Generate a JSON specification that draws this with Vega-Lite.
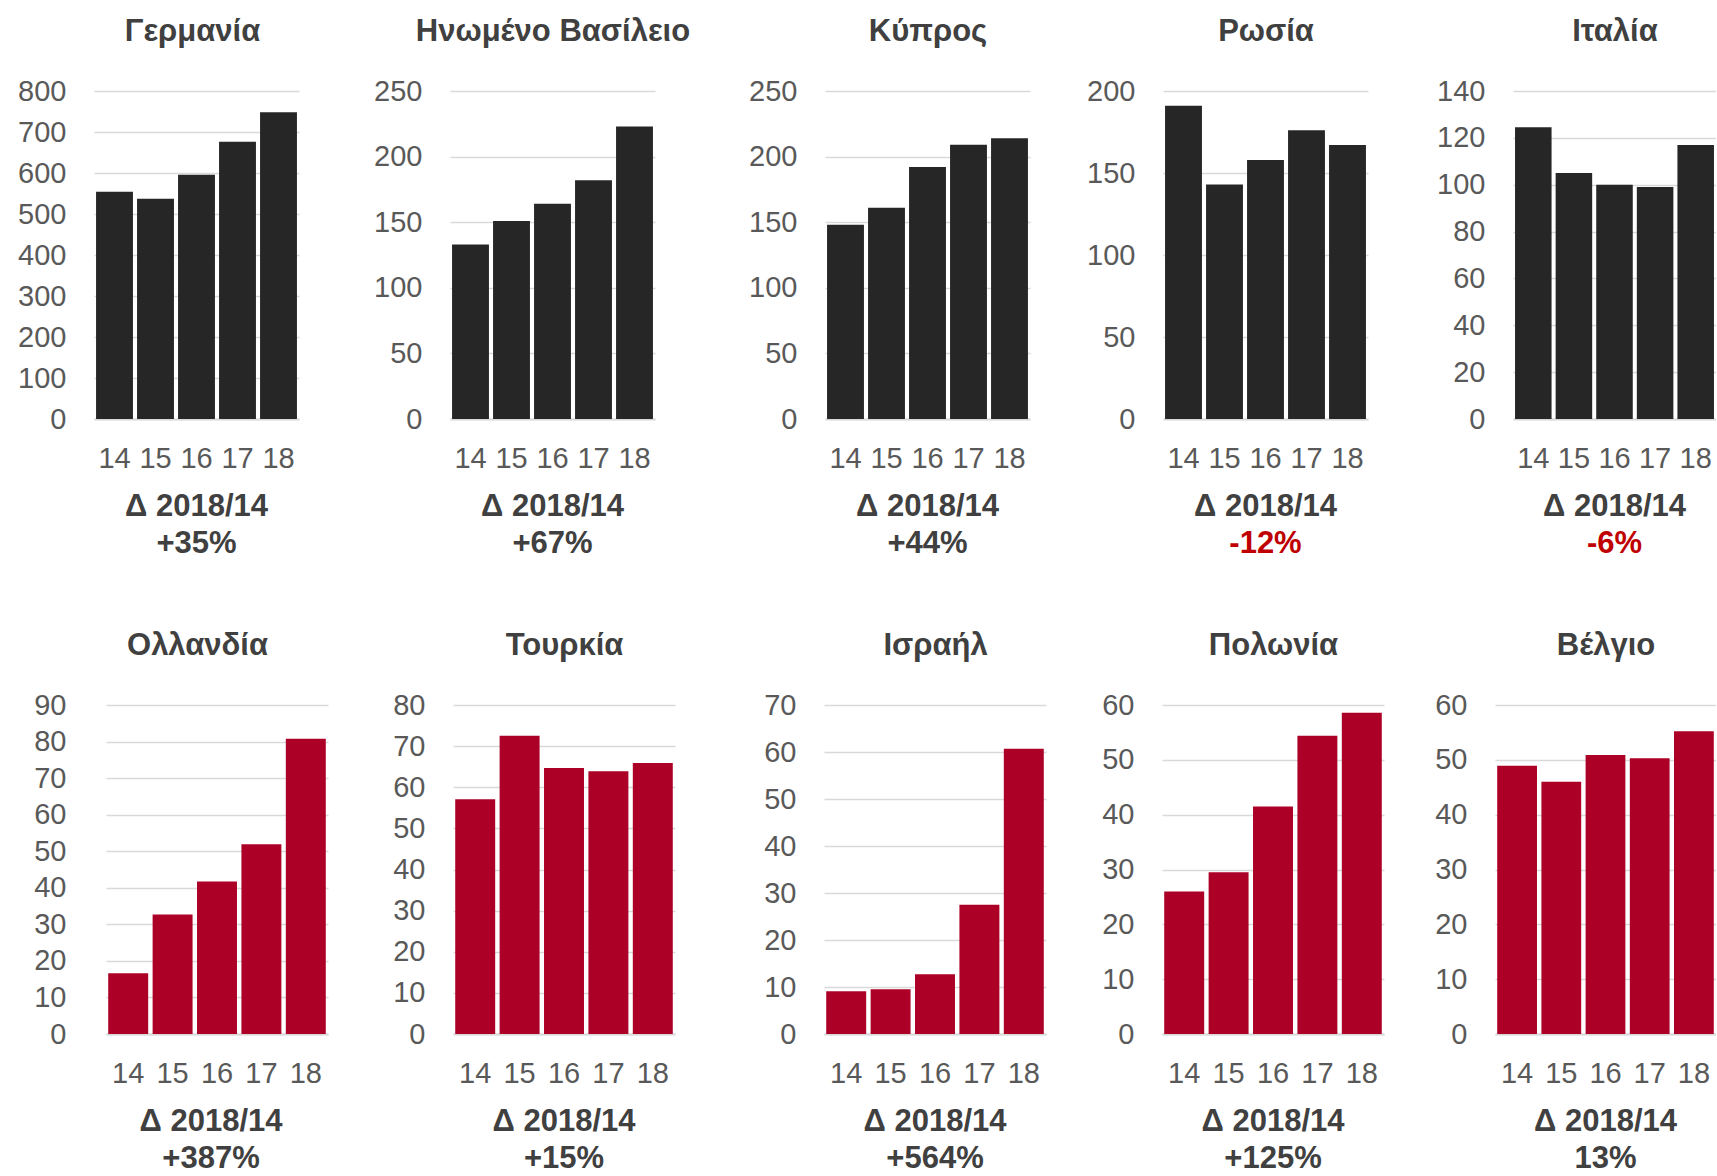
{
  "$schema": "https://vega.github.io/schema/vega-lite/v6.json",
  "padding": {"left": 5, "top": 15, "right": 0, "bottom": 0},
  "background": "white",
  "config": {
    "view": {"stroke": null},
    "font": "Liberation Sans",
    "axis": {
      "labelFont": "Liberation Sans",
      "labelFontSize": 29,
      "labelColor": "#595959",
      "ticks": false,
      "gridColor": "#D9D9D9",
      "gridWidth": 1.5,
      "domainColor": "#D9D9D9",
      "domainWidth": 2,
      "titleFont": "Liberation Sans",
      "titleFontSize": 31,
      "titleFontWeight": "bold",
      "titleColor": "#404040"
    },
    "axisX": {"grid": false, "labelAngle": 0, "labelPadding": 25},
    "axisY": {"domain": false, "grid": true, "labelPadding": 28},
    "title": {
      "font": "Liberation Sans",
      "fontSize": 31,
      "fontWeight": "bold",
      "color": "#404040",
      "subtitleFont": "Liberation Sans",
      "subtitleFontSize": 31,
      "subtitleFontWeight": "bold",
      "subtitleColor": "#404040",
      "subtitlePadding": 6,
      "offset": 19,
      "anchor": "middle"
    }
  },
  "datasets": {
    "d": [
      {"c": "Γερμανία", "y": "14", "v": 554}, {"c": "Γερμανία", "y": "15", "v": 537}, {"c": "Γερμανία", "y": "16", "v": 596}, {"c": "Γερμανία", "y": "17", "v": 676}, {"c": "Γερμανία", "y": "18", "v": 748},
      {"c": "Ηνωμένο Βασίλειο", "y": "14", "v": 133}, {"c": "Ηνωμένο Βασίλειο", "y": "15", "v": 151}, {"c": "Ηνωμένο Βασίλειο", "y": "16", "v": 164}, {"c": "Ηνωμένο Βασίλειο", "y": "17", "v": 182}, {"c": "Ηνωμένο Βασίλειο", "y": "18", "v": 223},
      {"c": "Κύπρος", "y": "14", "v": 148}, {"c": "Κύπρος", "y": "15", "v": 161}, {"c": "Κύπρος", "y": "16", "v": 192}, {"c": "Κύπρος", "y": "17", "v": 209}, {"c": "Κύπρος", "y": "18", "v": 214},
      {"c": "Ρωσία", "y": "14", "v": 191}, {"c": "Ρωσία", "y": "15", "v": 143}, {"c": "Ρωσία", "y": "16", "v": 158}, {"c": "Ρωσία", "y": "17", "v": 176}, {"c": "Ρωσία", "y": "18", "v": 167},
      {"c": "Ιταλία", "y": "14", "v": 124.5}, {"c": "Ιταλία", "y": "15", "v": 105}, {"c": "Ιταλία", "y": "16", "v": 100}, {"c": "Ιταλία", "y": "17", "v": 99}, {"c": "Ιταλία", "y": "18", "v": 117},
      {"c": "Ολλανδία", "y": "14", "v": 16.6}, {"c": "Ολλανδία", "y": "15", "v": 32.7}, {"c": "Ολλανδία", "y": "16", "v": 41.7}, {"c": "Ολλανδία", "y": "17", "v": 51.9}, {"c": "Ολλανδία", "y": "18", "v": 80.8},
      {"c": "Τουρκία", "y": "14", "v": 57.1}, {"c": "Τουρκία", "y": "15", "v": 72.5}, {"c": "Τουρκία", "y": "16", "v": 64.7}, {"c": "Τουρκία", "y": "17", "v": 63.9}, {"c": "Τουρκία", "y": "18", "v": 65.9},
      {"c": "Ισραήλ", "y": "14", "v": 9.1}, {"c": "Ισραήλ", "y": "15", "v": 9.5}, {"c": "Ισραήλ", "y": "16", "v": 12.7}, {"c": "Ισραήλ", "y": "17", "v": 27.5}, {"c": "Ισραήλ", "y": "18", "v": 60.7},
      {"c": "Πολωνία", "y": "14", "v": 26}, {"c": "Πολωνία", "y": "15", "v": 29.5}, {"c": "Πολωνία", "y": "16", "v": 41.5}, {"c": "Πολωνία", "y": "17", "v": 54.4}, {"c": "Πολωνία", "y": "18", "v": 58.6},
      {"c": "Βέλγιο", "y": "14", "v": 48.9}, {"c": "Βέλγιο", "y": "15", "v": 46}, {"c": "Βέλγιο", "y": "16", "v": 50.9}, {"c": "Βέλγιο", "y": "17", "v": 50.3}, {"c": "Βέλγιο", "y": "18", "v": 55.2}
    ]
  },
  "spacing": 70,
  "vconcat": [
    {
      "spacing": 0,
      "hconcat": [
        {
          "data": {"name": "d"},
          "transform": [{"filter": "datum.c === 'Γερμανία'"}],
          "width": 205, "height": 328,
          "title": {"text": "Δ 2018/14", "subtitle": "+35%", "orient": "bottom"},
          "resolve": {"axis": {"x": "independent"}},
          "layer": [
            {"mark": {"type": "bar", "color": "#262626"},
             "encoding": {
               "x": {"field": "y", "type": "ordinal", "scale": {"paddingInner": 0.1, "paddingOuter": 0.05}, "axis": {"title": null}},
               "y": {"field": "v", "type": "quantitative", "scale": {"domain": [0, 800], "nice": false}, "axis": {"title": null, "values": [0, 100, 200, 300, 400, 500, 600, 700, 800], "minExtent": 89}}
             }},
            {"mark": {"type": "bar", "opacity": 0},
             "encoding": {
               "x": {"field": "y", "type": "ordinal", "axis": {"orient": "top", "labels": false, "domain": false, "grid": false, "title": "Γερμανία", "titlePadding": 44, "titleX": 98}}
             }}
          ]
        },
        {
          "data": {"name": "d"},
          "transform": [{"filter": "datum.c === 'Ηνωμένο Βασίλειο'"}],
          "width": 205, "height": 328,
          "title": {"text": "Δ 2018/14", "subtitle": "+67%", "orient": "bottom"},
          "resolve": {"axis": {"x": "independent"}},
          "layer": [
            {"mark": {"type": "bar", "color": "#262626"},
             "encoding": {
               "x": {"field": "y", "type": "ordinal", "scale": {"paddingInner": 0.1, "paddingOuter": 0.05}, "axis": {"title": null}},
               "y": {"field": "v", "type": "quantitative", "scale": {"domain": [0, 250], "nice": false}, "axis": {"title": null, "values": [0, 50, 100, 150, 200, 250], "minExtent": 151}}
             }},
            {"mark": {"type": "bar", "opacity": 0},
             "encoding": {
               "x": {"field": "y", "type": "ordinal", "axis": {"orient": "top", "labels": false, "domain": false, "grid": false, "title": "Ηνωμένο Βασίλειο", "titlePadding": 44}}
             }}
          ]
        },
        {
          "data": {"name": "d"},
          "transform": [{"filter": "datum.c === 'Κύπρος'"}],
          "width": 205, "height": 328,
          "title": {"text": "Δ 2018/14", "subtitle": "+44%", "orient": "bottom"},
          "resolve": {"axis": {"x": "independent"}},
          "layer": [
            {"mark": {"type": "bar", "color": "#262626"},
             "encoding": {
               "x": {"field": "y", "type": "ordinal", "scale": {"paddingInner": 0.1, "paddingOuter": 0.05}, "axis": {"title": null}},
               "y": {"field": "v", "type": "quantitative", "scale": {"domain": [0, 250], "nice": false}, "axis": {"title": null, "values": [0, 50, 100, 150, 200, 250], "minExtent": 135}}
             }},
            {"mark": {"type": "bar", "opacity": 0},
             "encoding": {
               "x": {"field": "y", "type": "ordinal", "axis": {"orient": "top", "labels": false, "domain": false, "grid": false, "title": "Κύπρος", "titlePadding": 44}}
             }}
          ]
        },
        {
          "data": {"name": "d"},
          "transform": [{"filter": "datum.c === 'Ρωσία'"}],
          "width": 205, "height": 328,
          "title": {"text": "Δ 2018/14", "subtitle": "-12%", "subtitleColor": "#C00000", "orient": "bottom"},
          "resolve": {"axis": {"x": "independent"}},
          "layer": [
            {"mark": {"type": "bar", "color": "#262626"},
             "encoding": {
               "x": {"field": "y", "type": "ordinal", "scale": {"paddingInner": 0.1, "paddingOuter": 0.05}, "axis": {"title": null}},
               "y": {"field": "v", "type": "quantitative", "scale": {"domain": [0, 200], "nice": false}, "axis": {"title": null, "values": [0, 50, 100, 150, 200], "minExtent": 133}}
             }},
            {"mark": {"type": "bar", "opacity": 0},
             "encoding": {
               "x": {"field": "y", "type": "ordinal", "axis": {"orient": "top", "labels": false, "domain": false, "grid": false, "title": "Ρωσία", "titlePadding": 44}}
             }}
          ]
        },
        {
          "data": {"name": "d"},
          "transform": [{"filter": "datum.c === 'Ιταλία'"}],
          "width": 203, "height": 328,
          "title": {"text": "Δ 2018/14", "subtitle": "-6%", "subtitleColor": "#C00000", "orient": "bottom"},
          "resolve": {"axis": {"x": "independent"}},
          "layer": [
            {"mark": {"type": "bar", "color": "#262626"},
             "encoding": {
               "x": {"field": "y", "type": "ordinal", "scale": {"paddingInner": 0.1, "paddingOuter": 0.05}, "axis": {"title": null}},
               "y": {"field": "v", "type": "quantitative", "scale": {"domain": [0, 140], "nice": false}, "axis": {"title": null, "values": [0, 20, 40, 60, 80, 100, 120, 140], "minExtent": 145}}
             }},
            {"mark": {"type": "bar", "opacity": 0},
             "encoding": {
               "x": {"field": "y", "type": "ordinal", "axis": {"orient": "top", "labels": false, "domain": false, "grid": false, "title": "Ιταλία", "titlePadding": 44}}
             }}
          ]
        }
      ]
    },
    {
      "spacing": 0,
      "hconcat": [
        {
          "data": {"name": "d"},
          "transform": [{"filter": "datum.c === 'Ολλανδία'"}],
          "width": 234, "height": 329,
          "title": {"text": "Δ 2018/14", "subtitle": "+387%", "orient": "bottom"},
          "resolve": {"axis": {"x": "independent"}},
          "layer": [
            {"mark": {"type": "bar", "color": "#AD0027"},
             "encoding": {
               "x": {"field": "y", "type": "ordinal", "scale": {"paddingInner": 0.1, "paddingOuter": 0.05, "range": [12, 234]}, "axis": {"title": null}},
               "y": {"field": "v", "type": "quantitative", "scale": {"domain": [0, 90], "nice": false}, "axis": {"title": null, "values": [0, 10, 20, 30, 40, 50, 60, 70, 80, 90], "minExtent": 89}}
             }},
            {"mark": {"type": "bar", "opacity": 0},
             "encoding": {
               "x": {"field": "y", "type": "ordinal", "axis": {"orient": "top", "labels": false, "domain": false, "grid": false, "title": "Ολλανδία", "titlePadding": 44, "titleX": 103}}
             }}
          ]
        },
        {
          "data": {"name": "d"},
          "transform": [{"filter": "datum.c === 'Τουρκία'"}],
          "width": 222, "height": 329,
          "title": {"text": "Δ 2018/14", "subtitle": "+15%", "orient": "bottom"},
          "resolve": {"axis": {"x": "independent"}},
          "layer": [
            {"mark": {"type": "bar", "color": "#AD0027"},
             "encoding": {
               "x": {"field": "y", "type": "ordinal", "scale": {"paddingInner": 0.1, "paddingOuter": 0.05}, "axis": {"title": null}},
               "y": {"field": "v", "type": "quantitative", "scale": {"domain": [0, 80], "nice": false}, "axis": {"title": null, "values": [0, 10, 20, 30, 40, 50, 60, 70, 80], "minExtent": 125}}
             }},
            {"mark": {"type": "bar", "opacity": 0},
             "encoding": {
               "x": {"field": "y", "type": "ordinal", "axis": {"orient": "top", "labels": false, "domain": false, "grid": false, "title": "Τουρκία", "titlePadding": 44}}
             }}
          ]
        },
        {
          "data": {"name": "d"},
          "transform": [{"filter": "datum.c === 'Ισραήλ'"}],
          "width": 222, "height": 329,
          "title": {"text": "Δ 2018/14", "subtitle": "+564%", "orient": "bottom"},
          "resolve": {"axis": {"x": "independent"}},
          "layer": [
            {"mark": {"type": "bar", "color": "#AD0027"},
             "encoding": {
               "x": {"field": "y", "type": "ordinal", "scale": {"paddingInner": 0.1, "paddingOuter": 0.05}, "axis": {"title": null}},
               "y": {"field": "v", "type": "quantitative", "scale": {"domain": [0, 70], "nice": false}, "axis": {"title": null, "values": [0, 10, 20, 30, 40, 50, 60, 70], "minExtent": 149}}
             }},
            {"mark": {"type": "bar", "opacity": 0},
             "encoding": {
               "x": {"field": "y", "type": "ordinal", "axis": {"orient": "top", "labels": false, "domain": false, "grid": false, "title": "Ισραήλ", "titlePadding": 44}}
             }}
          ]
        },
        {
          "data": {"name": "d"},
          "transform": [{"filter": "datum.c === 'Πολωνία'"}],
          "width": 222, "height": 329,
          "title": {"text": "Δ 2018/14", "subtitle": "+125%", "orient": "bottom"},
          "resolve": {"axis": {"x": "independent"}},
          "layer": [
            {"mark": {"type": "bar", "color": "#AD0027"},
             "encoding": {
               "x": {"field": "y", "type": "ordinal", "scale": {"paddingInner": 0.1, "paddingOuter": 0.05}, "axis": {"title": null}},
               "y": {"field": "v", "type": "quantitative", "scale": {"domain": [0, 60], "nice": false}, "axis": {"title": null, "values": [0, 10, 20, 30, 40, 50, 60], "minExtent": 116}}
             }},
            {"mark": {"type": "bar", "opacity": 0},
             "encoding": {
               "x": {"field": "y", "type": "ordinal", "axis": {"orient": "top", "labels": false, "domain": false, "grid": false, "title": "Πολωνία", "titlePadding": 44}}
             }}
          ]
        },
        {
          "data": {"name": "d"},
          "transform": [{"filter": "datum.c === 'Βέλγιο'"}],
          "width": 221, "height": 329,
          "title": {"text": "Δ 2018/14", "subtitle": "13%", "orient": "bottom"},
          "resolve": {"axis": {"x": "independent"}},
          "layer": [
            {"mark": {"type": "bar", "color": "#AD0027"},
             "encoding": {
               "x": {"field": "y", "type": "ordinal", "scale": {"paddingInner": 0.1, "paddingOuter": 0.05}, "axis": {"title": null}},
               "y": {"field": "v", "type": "quantitative", "scale": {"domain": [0, 60], "nice": false}, "axis": {"title": null, "values": [0, 10, 20, 30, 40, 50, 60], "minExtent": 111}}
             }},
            {"mark": {"type": "bar", "opacity": 0},
             "encoding": {
               "x": {"field": "y", "type": "ordinal", "axis": {"orient": "top", "labels": false, "domain": false, "grid": false, "title": "Βέλγιο", "titlePadding": 44}}
             }}
          ]
        }
      ]
    }
  ]
}
